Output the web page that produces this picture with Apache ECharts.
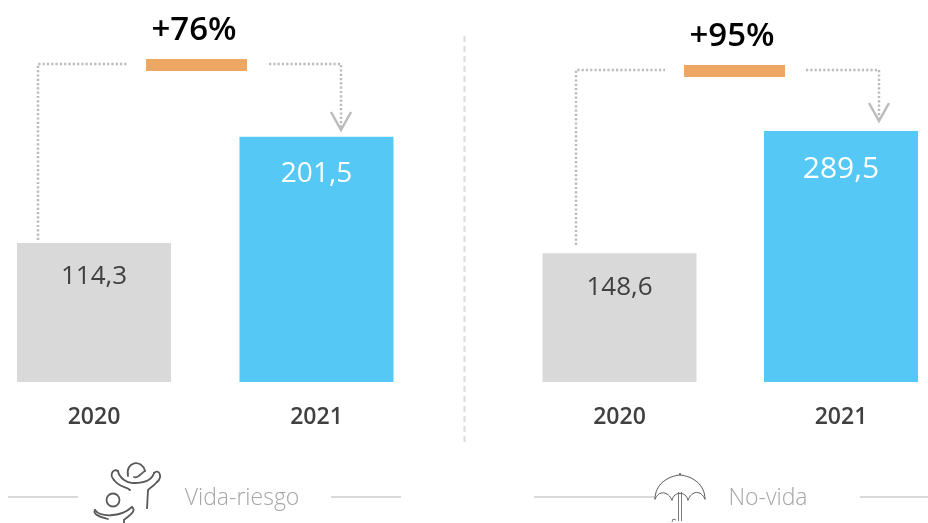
<!DOCTYPE html>
<html>
<head>
<meta charset="utf-8">
<title>Vida-riesgo / No-vida</title>
<script src="https://cdn.jsdelivr.net/npm/echarts@6/dist/echarts.min.js"></script>
<style>
html, body { margin: 0; padding: 0; background: #fff; }
#chart { width: 928px; height: 523px; }
</style>
</head>
<body>
<div id="chart"></div>
<script>
var years = ['2020', '2021']
var vidaValues = [114.3, 201.5]
var noVidaValues = [148.6, 289.5]
var vidaName = 'Vida-riesgo'
var noVidaName = 'No-vida'
var vidaGrowth = '+76%'
var noVidaGrowth = '+95%'

var FONT = '"Open Sans", "Noto Sans", sans-serif'
var GREY = '#d9d9d9'
var BLUE = '#55c8f6'
var ORANGE = '#eda763'
var DOT = '#bcbcbc'
var ICON = '#595959'

function barSeries (name, idx, values, blueSize) {
  return {
    name: name,
    type: 'bar',
    xAxisIndex: idx,
    yAxisIndex: idx,
    barWidth: 154,
    silent: true,
    data: values.map(function (v, i) {
      return {
        value: v,
        itemStyle: { color: i === 0 ? GREY : BLUE },
        label: {
          color: i === 0 ? '#404040' : '#fff',
          fontSize: i === 0 ? 26 : blueSize,
          fontWeight: i === 0 ? 400 : 500,
          distance: i === 0 ? 21 : 23
        }
      }
    }),
    label: {
      show: true,
      position: 'insideTop',
      fontFamily: FONT,
      formatter: function (p) { return String(p.value).replace('.', ',') }
    }
  }
}

function xAxisFor (idx) {
  return {
    type: 'category',
    gridIndex: idx,
    data: years,
    boundaryGap: false, // las barras quedan en los extremos del grid
    axisLine: { show: false },
    axisTick: { show: false },
    axisLabel: { margin: 24, color: '#404040', fontFamily: FONT, fontSize: 23, fontWeight: 600 }
  }
}

function yAxisFor (idx) {
  return { type: 'value', gridIndex: idx, min: 0, max: 300, show: false }
}

// elementos decorativos
function poly (pts, dash, color, width) {
  return {
    type: 'polyline',
    silent: true,
    shape: { points: pts },
    style: { stroke: color, lineWidth: width, lineDash: dash || null, fill: null }
  }
}

function rect (x, y, w, h, color) {
  return { type: 'rect', silent: true, shape: { x: x, y: y, width: w, height: h }, style: { fill: color } }
}

function label (x, y, str, size, color, weight) {
  return {
    type: 'text',
    silent: true,
    x: x,
    y: y,
    style: {
      text: str,
      fontFamily: FONT,
      fontSize: size,
      fontWeight: weight,
      fill: color,
      align: 'center',
      verticalAlign: 'middle'
    }
  }
}

function curve (x1, y1, cx1, cy1, cx2, cy2, x2, y2, w) {
  return {
    type: 'bezierCurve',
    silent: true,
    shape: { x1: x1, y1: y1, cpx1: cx1, cpy1: cy1, cpx2: cx2, cpy2: cy2, x2: x2, y2: y2 },
    style: { stroke: ICON, lineWidth: w, fill: null, lineCap: 'round' }
  }
}

function bracket (leftX, leftY, topY, gapL, gapR, rightX, arrowY) {
  return [
    poly([[leftX, leftY], [leftX, topY], [gapL, topY]], [2.2, 2.1], DOT, 2.5),
    poly([[gapR, topY], [rightX, topY], [rightX, arrowY]], [2.2, 2.1], DOT, 2.5),
    poly([[rightX - 10, arrowY - 17], [rightX, arrowY + 1], [rightX + 10, arrowY - 17]], null, DOT, 2.5)
  ]
}

var peopleIcon = [
  // adulto
  curve(128, 476, 125, 461, 142, 459, 145, 471, 1.8),
  curve(134, 477, 138, 479, 141, 473, 145, 471, 1.8),
  curve(118, 471, 113, 468, 109, 475, 114, 480, 1.8),
  curve(114, 480, 120, 488, 126, 486, 130, 490, 1.8),
  curve(118, 471, 119, 478, 128, 484, 134, 483, 1.8),
  curve(134, 483, 145, 483, 152, 480, 154, 473, 1.8),
  curve(154, 473, 159, 468, 163, 477, 157, 482, 1.8),
  curve(157, 482, 152, 488, 150, 487, 148, 490, 1.8),
  poly([[148, 490], [147, 509]], null, ICON, 1.8),
  // niño
  { type: 'circle', silent: true, shape: { cx: 113, cy: 500, r: 6.5 }, style: { stroke: ICON, lineWidth: 1.8, fill: null } },
  curve(95, 510, 100, 517, 120, 518, 132, 507, 1.8),
  curve(95, 510, 93, 513, 96, 516, 108, 519, 1.8),
  curve(132, 507, 136, 510, 132, 514, 125, 519, 1.8),
  poly([[124, 519], [124, 523]], null, ICON, 1.8)
]

var umbrellaIcon = [
  curve(655, 499, 655, 484, 668, 476, 680, 475, 1),
  curve(680, 475, 692, 476, 705, 484, 705, 499, 1),
  curve(655, 499, 659, 490, 668, 491, 672, 500, 1),
  curve(672, 500, 674, 491, 686, 491, 688, 500, 1),
  curve(688, 500, 692, 490, 701, 490, 705, 499, 1),
  poly([[678.5, 492], [678.5, 521]], null, ICON, 0.8),
  poly([[681.5, 492], [681.5, 521]], null, ICON, 0.8),
  poly([[680, 475], [680, 473]], null, ICON, 1.5),
  poly([[672, 522], [673, 519], [676, 520]], null, ICON, 0.8)
]

var chartDom = document.getElementById('chart')
var myChart = echarts.init(chartDom, null, { renderer: 'canvas' })

myChart.setOption({
  backgroundColor: '#fff',
  animation: false,
  grid: [
    { left: 94, width: 222.5, top: 17, height: 365 },
    { left: 619.5, width: 221.5, top: 122, height: 260 }
  ],
  xAxis: [xAxisFor(0), xAxisFor(1)],
  yAxis: [yAxisFor(0), yAxisFor(1)],
  series: [
    barSeries(vidaName, 0, vidaValues, 28),
    barSeries(noVidaName, 1, noVidaValues, 30)
  ],
  graphic: [
    poly([[464.5, 36], [464.5, 443]], [6, 4], '#dcdcdc', 2),

    label(194, 31, vidaGrowth, 33, '#000', 600),
    rect(146, 59, 101, 12, ORANGE),
    label(732, 37, noVidaGrowth, 33, '#000', 600),
    rect(684, 65, 101, 12, ORANGE),

    poly([[8, 497], [78, 497]], null, GREY, 2),
    poly([[331, 497], [401, 497]], null, GREY, 2),
    poly([[534, 497], [655, 497]], null, GREY, 2),
    poly([[860, 497], [928, 497]], null, GREY, 2),
    label(242, 498, vidaName, 23, '#a6a6a6', 300),
    label(768, 498, noVidaName, 23, '#a6a6a6', 300)
  ].concat(
    bracket(38, 240, 64, 128, 269, 341, 129),
    bracket(576, 245, 70, 665, 806, 879, 120),
    peopleIcon,
    umbrellaIcon
  )
})
</script>
</body>
</html>
